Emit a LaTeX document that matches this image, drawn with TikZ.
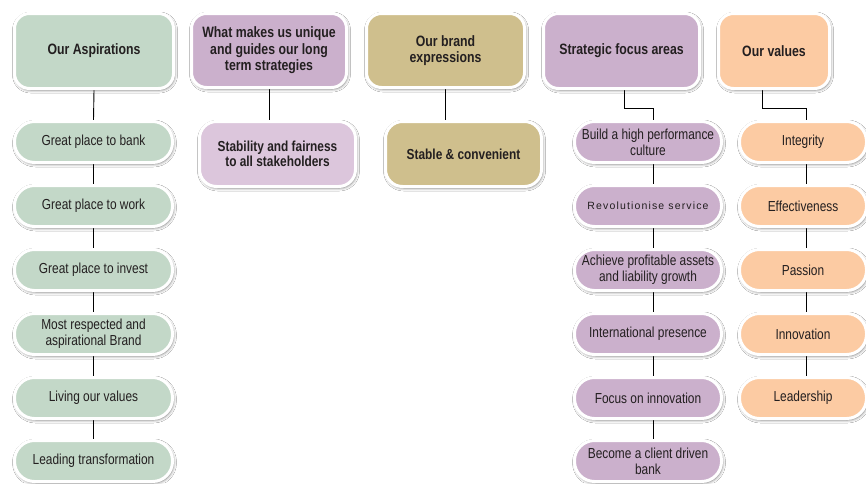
\documentclass[tikz,border=0pt]{standalone}
\usepackage{fontspec}
\setmainfont{Liberation Sans}[FakeStretch=0.82]
\newfontfamily\widefont{Liberation Sans}[LetterSpace=11]
\usetikzlibrary{shadows.blur,backgrounds}
\definecolor{cgreen}{RGB}{195,216,200}
\definecolor{cpurple}{RGB}{203,176,204}
\definecolor{clpurple}{RGB}{220,198,220}
\definecolor{ctan}{RGB}{207,191,141}
\definecolor{cpeach}{RGB}{252,203,163}
\definecolor{txt}{RGB}{35,31,32}
\begin{document}
\begin{tikzpicture}[x=1pt,y=-1pt,
  box/.style={draw=white, line width=3pt, text=txt, align=center, inner sep=0pt,
    blur shadow={shadow xshift=1pt, shadow yshift=-1.5pt, shadow blur radius=3pt, shadow opacity=55}},
  hdr/.style={box, rounded corners=15pt, font=\bfseries\fontsize{15}{16.5}\selectfont},
  sub/.style={box, rounded corners=17pt, minimum width=156pt, minimum height=65pt, font=\bfseries\fontsize{14.5}{13.5}\selectfont},
  pill/.style={box, rounded corners=20pt, minimum height=41pt, font=\fontsize{14.5}{16}\selectfont},
  apill/.style={pill, fill=cgreen, minimum width=158pt},
  spill/.style={pill, fill=cpurple, minimum width=147pt},
  vpill/.style={pill, fill=cpeach, minimum width=127pt},
  link/.style={draw=black, line width=0.9pt}]
\useasboundingbox (0,0) rectangle (866,483);

% headers
\node[hdr, fill=cgreen, minimum width=159pt, minimum height=75pt] (asp) at (94,51) {Our Aspirations};
\node[hdr, fill=cpurple, minimum width=155pt, minimum height=74pt] (uniq) at (269,50.5) {What makes us unique\\and guides our long\\term strategies};
\node[hdr, fill=ctan, minimum width=158pt, minimum height=74pt] (brand) at (445.5,50.5) {Our brand\\expressions};
\node[hdr, fill=cpurple, minimum width=156pt, minimum height=75pt] (strat) at (621.5,51) {Strategic focus areas};
\node[hdr, fill=cpeach, minimum width=111pt, minimum height=75pt] (vals) at (774,51) {Our values};

% second-level boxes
\node[sub, fill=clpurple] (uc) at (277.5,154) {Stability and fairness\\to all stakeholders};
\node[sub, fill=ctan] (bc) at (463.5,154) {Stable \& convenient};

% aspirations
\node[apill] (a1) at (93.5,142) {Great place to bank};
\node[apill] (a2) at (93.5,206) {Great place to work};
\node[apill] (a3) at (93.5,270) {Great place to invest};
\node[apill] (a4) at (93.5,334) {Most respected and\\aspirational Brand};
\node[apill] (a5) at (93.5,398) {Living our values};
\node[apill] (a6) at (93.5,461) {Leading transformation};

% strategic focus
\node[spill] (s1) at (648,142) {Build a high performance\\culture};
\node[spill, font=\widefont\fontsize{10.5}{12}\selectfont] (s2) at (648,206) {Revolutionise service};
\node[spill] (s3) at (648,270) {Achieve profitable assets\\and liability growth};
\node[spill] (s4) at (648,334) {International presence};
\node[spill] (s5) at (648,398) {Focus on innovation};
\node[spill] (s6) at (648,461) {Become a client driven\\bank};

% values
\node[vpill] (v1) at (803,142) {Integrity};
\node[vpill] (v2) at (803,206) {Effectiveness};
\node[vpill] (v3) at (803,270) {Passion};
\node[vpill] (v4) at (803,334) {Innovation};
\node[vpill] (v5) at (803,398) {Leadership};

\begin{scope}[on background layer]
\fill[white] (0,0) rectangle (866,483);
\draw[link] (asp.south) -- (a1.north);
\draw[link] (a1.south) -- (a2.north);
\draw[link] (a2.south) -- (a3.north);
\draw[link] (a3.south) -- (a4.north);
\draw[link] (a4.south) -- (a5.north);
\draw[link] (a5.south) -- (a6.north);
\draw[link] (uniq.south) -- (uniq.south |- uc.north);
\draw[link] (brand.south) -- (brand.south |- bc.north);
\draw[link] ([xshift=2.5pt]strat.south) -- ++(0,18) -| ([xshift=5pt]s1.north);
\draw[link] ([xshift=5pt]s1.south) -- ([xshift=5pt]s2.north);
\draw[link] ([xshift=5pt]s2.south) -- ([xshift=5pt]s3.north);
\draw[link] ([xshift=5pt]s3.south) -- ([xshift=5pt]s4.north);
\draw[link] ([xshift=5pt]s4.south) -- ([xshift=5pt]s5.north);
\draw[link] ([xshift=5pt]s5.south) -- ([xshift=5pt]s6.north);
\draw[link] ([xshift=-12pt]vals.south) -- ++(0,18) -| ([xshift=3pt]v1.north);
\draw[link] ([xshift=3pt]v1.south) -- ([xshift=3pt]v2.north);
\draw[link] ([xshift=3pt]v2.south) -- ([xshift=3pt]v3.north);
\draw[link] ([xshift=3pt]v3.south) -- ([xshift=3pt]v4.north);
\draw[link] ([xshift=3pt]v4.south) -- ([xshift=3pt]v5.north);
\end{scope}
\end{tikzpicture}
\end{document}
